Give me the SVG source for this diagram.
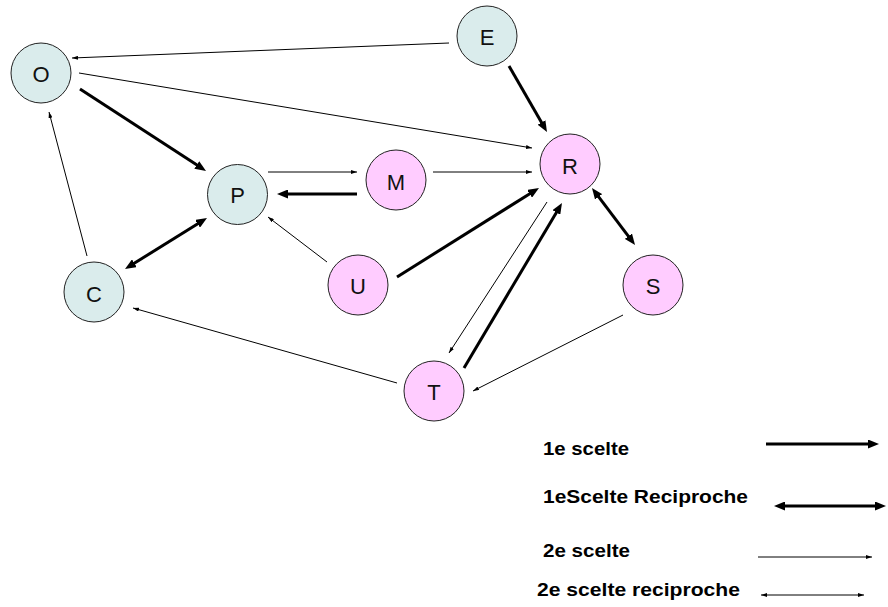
<svg xmlns="http://www.w3.org/2000/svg" width="888" height="607" viewBox="0 0 888 607">
<style>
.node circle{stroke:#222;stroke-width:1}
.g circle{fill:#DAECEC}
.p circle{fill:#FFCCFF}
.node text{font-family:"Liberation Sans",Arial,sans-serif;font-size:22px;fill:#111;text-anchor:middle;dominant-baseline:central}
.thick{stroke:#000;stroke-width:3;fill:none}
.thin{stroke:#000;stroke-width:1;fill:none}
.e1{marker-end:url(#hk)}
.e1r{marker-end:url(#hk);marker-start:url(#hk)}
.e2{marker-end:url(#hn)}
.e2r{marker-end:url(#hn);marker-start:url(#hn)}
.leg{font-family:"Liberation Sans",Arial,sans-serif;font-size:18px;font-weight:bold;fill:#000}
</style>
<defs>
<marker id="hk" markerUnits="userSpaceOnUse" markerWidth="11" markerHeight="9" refX="3" refY="4.5" orient="auto-start-reverse" viewBox="0 0 11 9">
<path d="M0,0 L11,4.5 L0,9 z" fill="#000"/>
</marker>
<marker id="hn" markerUnits="userSpaceOnUse" markerWidth="6" markerHeight="4" refX="6" refY="2" orient="auto-start-reverse" viewBox="0 0 6 4">
<path d="M0,0 L6,2 L0,4 z" fill="#000"/>
</marker>
</defs>
<g id="connectors">
<line class="thin e2" x1="449" y1="43" x2="72" y2="58"/>
<line class="thin e2" x1="79" y1="73" x2="532" y2="148"/>
<line class="thick e1" x1="80" y1="89" x2="199.3" y2="166.6"/>
<line class="thick e1" x1="509" y1="66" x2="543" y2="125.1"/>
<line class="thin e2" x1="268" y1="172" x2="357" y2="172"/>
<line class="thick e1" x1="357" y1="194" x2="285" y2="194"/>
<line class="thin e2" x1="433" y1="172" x2="532" y2="172"/>
<line class="thin e2" x1="327" y1="262" x2="268" y2="217"/>
<line class="thick e1" x1="397" y1="277" x2="532.2" y2="192.2"/>
<line class="thick e1r" x1="131.8" y1="264.8" x2="200.2" y2="222.2"/>
<line class="thin e2" x1="87" y1="256" x2="49" y2="112"/>
<line class="thick e1r" x1="596.8" y1="194.4" x2="630.2" y2="238.6"/>
<line class="thin e2" x1="547" y1="202" x2="449" y2="353"/>
<line class="thick e1" x1="464" y1="368" x2="557.9" y2="209.9"/>
<line class="thin e2" x1="623" y1="315" x2="473" y2="391"/>
<line class="thin e2" x1="397" y1="383" x2="133" y2="308"/>
</g>
<g id="node-O" class="node g"><circle cx="41" cy="73" r="30"/><text x="41" y="74">O</text></g>
<g id="node-E" class="node g"><circle cx="487" cy="36" r="30"/><text x="487" y="37">E</text></g>
<g id="node-P" class="node g"><circle cx="237.5" cy="194.5" r="30"/><text x="237.5" y="195.5">P</text></g>
<g id="node-C" class="node g"><circle cx="94" cy="292" r="30"/><text x="94" y="294">C</text></g>
<g id="node-M" class="node p"><circle cx="396" cy="180" r="30"/><text x="396" y="182">M</text></g>
<g id="node-R" class="node p"><circle cx="570" cy="164" r="30"/><text x="570" y="166">R</text></g>
<g id="node-U" class="node p"><circle cx="358" cy="285" r="30"/><text x="358" y="286">U</text></g>
<g id="node-S" class="node p"><circle cx="653" cy="285" r="30"/><text x="653" y="286">S</text></g>
<g id="node-T" class="node p"><circle cx="434" cy="391" r="30"/><text x="434" y="392">T</text></g>
<g id="legend">
<text class="leg" x="543" y="455" textLength="86" lengthAdjust="spacingAndGlyphs">1e scelte</text>
<line class="thick e1" x1="766" y1="444" x2="871" y2="444"/>
<text class="leg" x="543" y="503" textLength="205" lengthAdjust="spacingAndGlyphs">1eScelte Reciproche</text>
<line class="thick e1r" x1="782" y1="506" x2="878" y2="506"/>
<text class="leg" x="543" y="557" textLength="87" lengthAdjust="spacingAndGlyphs">2e scelte</text>
<line class="thin e2" x1="758" y1="557" x2="872" y2="557"/>
<text class="leg" x="537" y="596" textLength="203" lengthAdjust="spacingAndGlyphs">2e scelte reciproche</text>
<line class="thin e2r" x1="761" y1="595" x2="864" y2="595"/>
</g>
</svg>
